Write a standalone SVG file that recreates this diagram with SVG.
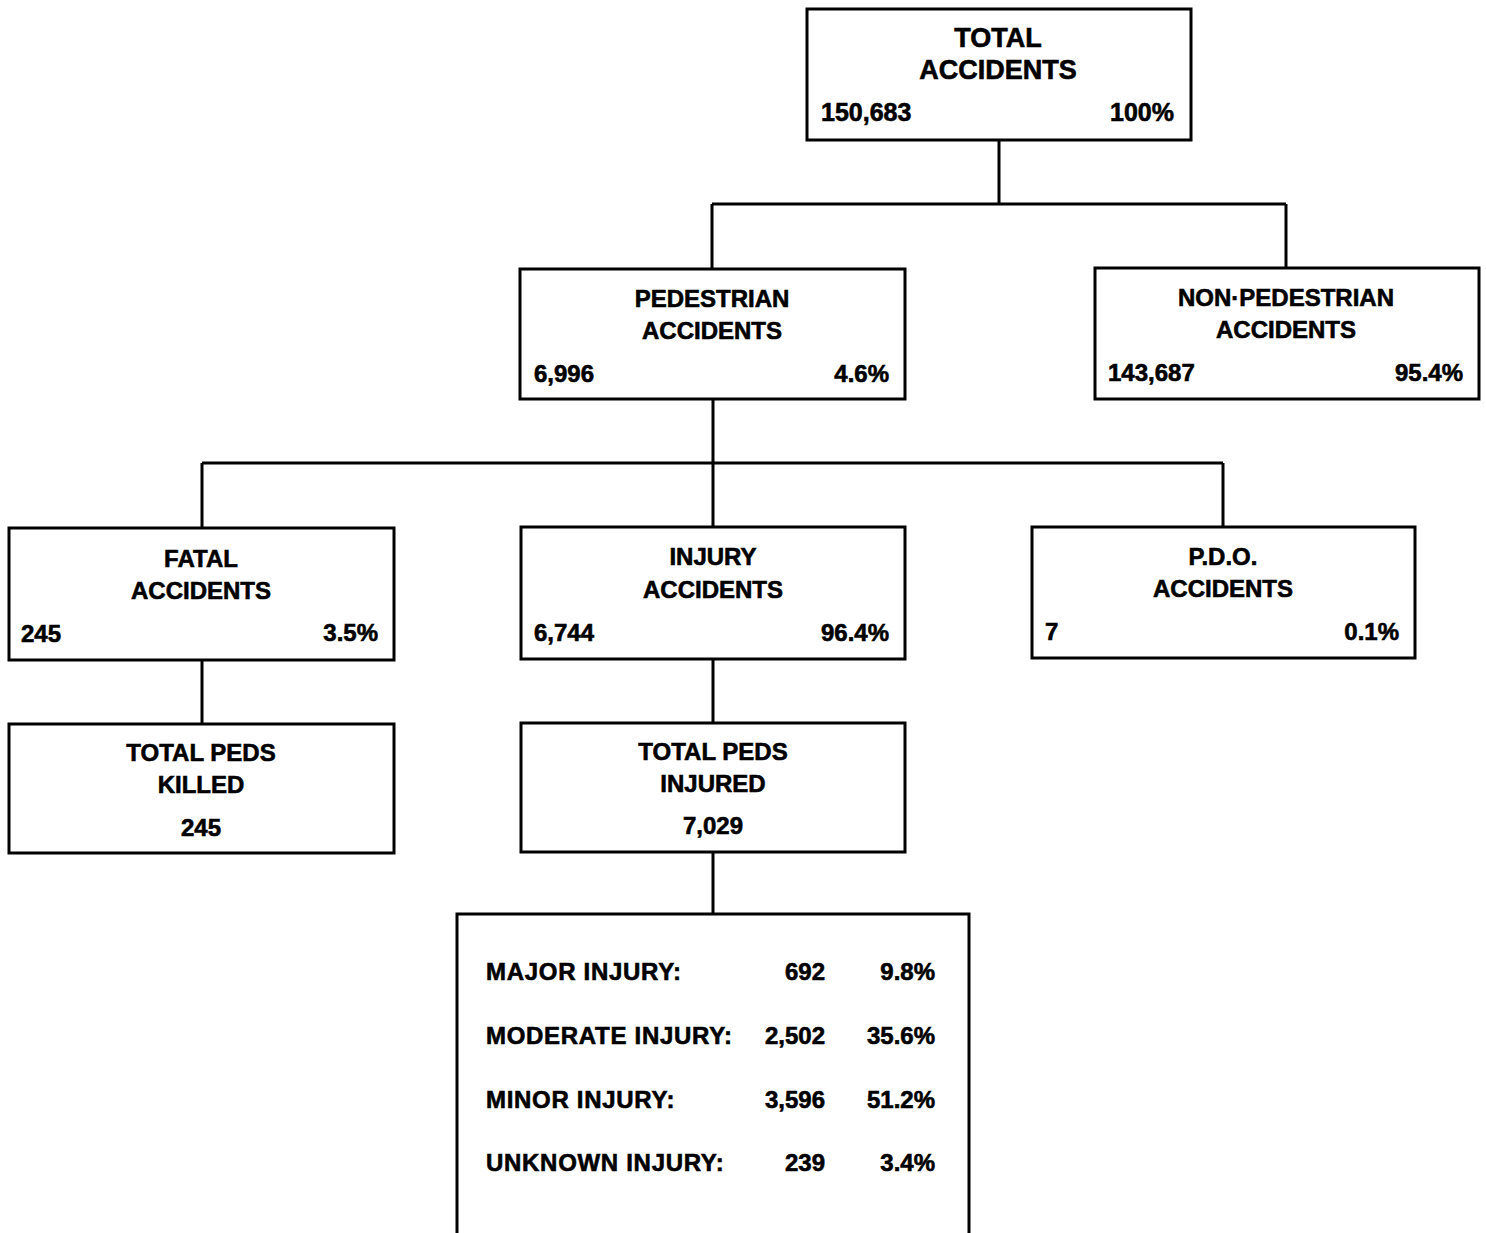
<svg xmlns="http://www.w3.org/2000/svg" width="1486" height="1233" viewBox="0 0 1486 1233">
<style>
.box{fill:#fff;stroke:#000;stroke-width:3}
.c{fill:none;stroke:#000;stroke-width:3}
text{font-family:"Liberation Sans",Arial,sans-serif;font-weight:bold;fill:#000;font-size:24px;stroke:#000;stroke-width:0.6}
.m{text-anchor:middle}
.e{text-anchor:end}
.big{font-size:27px}
.row{letter-spacing:0.7px}
</style>
<rect width="1486" height="1233" fill="#fff"/>
<g id="connectors">
<path class="c" d="M999 140V204M712 204H1286M712 204V269M1286 204V268"/>
<path class="c" d="M713 399V528M202 463H1223M202 463V528M1223 463V527"/>
<path class="c" d="M202 660V724M713 659V723M713 852V914"/>
</g>
<g id="total">
<rect class="box" x="807" y="9" width="384" height="131"/>
<text class="m big" x="998" y="47">TOTAL</text>
<text class="m big" x="998" y="79">ACCIDENTS</text>
<text class="big" x="821" y="121" style="font-size:25px">150,683</text>
<text class="e big" x="1174" y="121" style="font-size:25px">100%</text>
</g>
<g id="pedestrian">
<rect class="box" x="520" y="269" width="385" height="130"/>
<text class="m" x="712" y="307">PEDESTRIAN</text>
<text class="m" x="712" y="339">ACCIDENTS</text>
<text x="534" y="382">6,996</text>
<text class="e" x="889" y="382">4.6%</text>
</g>
<g id="nonpedestrian">
<rect class="box" x="1095" y="268" width="384" height="131"/>
<text class="m" x="1286" y="306">NON·PEDESTRIAN</text>
<text class="m" x="1286" y="338">ACCIDENTS</text>
<text x="1108" y="381">143,687</text>
<text class="e" x="1463" y="381">95.4%</text>
</g>
<g id="fatal">
<rect class="box" x="9" y="528" width="385" height="132"/>
<text class="m" x="201" y="567">FATAL</text>
<text class="m" x="201" y="599">ACCIDENTS</text>
<text x="21" y="642">245</text>
<text class="e" x="378" y="641">3.5%</text>
</g>
<g id="injury">
<rect class="box" x="521" y="527" width="384" height="132"/>
<text class="m" x="713" y="565">INJURY</text>
<text class="m" x="713" y="598">ACCIDENTS</text>
<text x="534" y="641">6,744</text>
<text class="e" x="889" y="641">96.4%</text>
</g>
<g id="pdo">
<rect class="box" x="1032" y="527" width="383" height="131"/>
<text class="m" x="1223" y="565">P.D.O.</text>
<text class="m" x="1223" y="597">ACCIDENTS</text>
<text x="1045" y="640">7</text>
<text class="e" x="1399" y="640">0.1%</text>
</g>
<g id="killed">
<rect class="box" x="9" y="724" width="385" height="129"/>
<text class="m" x="201" y="761">TOTAL PEDS</text>
<text class="m" x="201" y="793">KILLED</text>
<text class="m" x="201" y="836">245</text>
</g>
<g id="injured">
<rect class="box" x="521" y="723" width="384" height="129"/>
<text class="m" x="713" y="760">TOTAL PEDS</text>
<text class="m" x="713" y="792">INJURED</text>
<text class="m" x="713" y="834">7,029</text>
</g>
<g id="breakdown">
<rect class="box" x="457" y="914" width="512" height="340"/>
<text class="row" x="486" y="980">MAJOR INJURY:</text>
<text class="e" x="825" y="980">692</text>
<text class="e" x="935" y="980">9.8%</text>
<text class="row" x="486" y="1044">MODERATE INJURY:</text>
<text class="e" x="825" y="1044">2,502</text>
<text class="e" x="935" y="1044">35.6%</text>
<text class="row" x="486" y="1108">MINOR INJURY:</text>
<text class="e" x="825" y="1108">3,596</text>
<text class="e" x="935" y="1108">51.2%</text>
<text class="row" x="486" y="1171">UNKNOWN INJURY:</text>
<text class="e" x="825" y="1171">239</text>
<text class="e" x="935" y="1171">3.4%</text>
</g>
</svg>
